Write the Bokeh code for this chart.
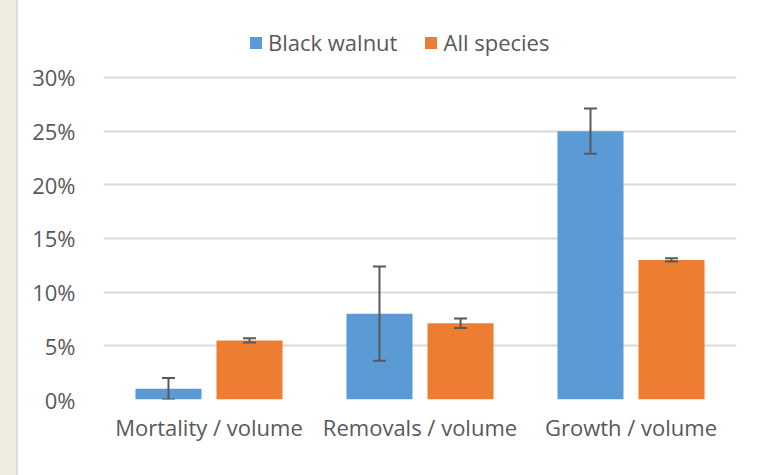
from bokeh.plotting import figure
from bokeh.layouts import row
from bokeh.models import (ColumnDataSource, FactorRange, Whisker, Legend, LegendItem,
                          FixedTicker, PrintfTickFormatter, TeeHead, Div)
from bokeh.transform import dodge
from bokeh.embed import file_html
from bokeh.resources import INLINE

categories = ["Mortality / volume", "Removals / volume", "Growth / volume"]
black_walnut = [1.0, 8.0, 25.0]
black_walnut_err = [1.0, 4.4, 2.1]
all_species = [5.5, 7.1, 13.0]
all_species_err = [0.2, 0.45, 0.15]
y_ticks = [0, 5, 10, 15, 20, 25, 30]

src = ColumnDataSource(dict(
    cats=categories,
    bw=black_walnut,
    bw_lo=[max(v - e, 0) for v, e in zip(black_walnut, black_walnut_err)],
    bw_hi=[v + e for v, e in zip(black_walnut, black_walnut_err)],
    al=all_species,
    al_lo=[v - e for v, e in zip(all_species, all_species_err)],
    al_hi=[v + e for v, e in zip(all_species, all_species_err)],
))

FONT = "Open Sans"
TXT = "#595959"

# frame extended above 30% so that the legend lies inside it (no grid line above 30%)
p = figure(x_range=FactorRange(*categories, range_padding=0), y_range=(0, 36.24),
           width=755, height=475, output_backend="svg", toolbar_location=None,
           min_border_left=85, min_border_right=37, min_border_top=10, min_border_bottom=76,
           border_fill_color="white", background_fill_color="white", outline_line_color=None)

off = 0.192
bw_r = p.vbar(x=dodge("cats", -off, range=p.x_range), top="bw", width=0.313, source=src,
              fill_color="#5b9bd5", line_color=None)
al_r = p.vbar(x=dodge("cats", off, range=p.x_range), top="al", width=0.313, source=src,
              fill_color="#ed7d31", line_color=None)

for base_off, lo, hi in [(-off, "bw_lo", "bw_hi"), (off, "al_lo", "al_hi")]:
    w = Whisker(source=src, base=dodge("cats", base_off, range=p.x_range), lower=lo, upper=hi,
                line_color="#595959", line_width=2, level="overlay",
                upper_head=TeeHead(size=13, line_color="#595959", line_width=2),
                lower_head=TeeHead(size=13, line_color="#595959", line_width=2))
    p.add_layout(w)

p.yaxis.ticker = FixedTicker(ticks=y_ticks)
p.yaxis.formatter = PrintfTickFormatter(format="%d%%")
for ax in (p.xaxis[0], p.yaxis[0]):
    ax.axis_line_color = None
    ax.major_tick_line_color = None
    ax.minor_tick_line_color = None
    ax.major_label_text_font = FONT
    ax.major_label_text_font_size = "22px"
    ax.major_label_text_color = TXT
p.yaxis.major_label_standoff = 22
p.xaxis.major_label_standoff = 6

p.xgrid.grid_line_color = None
p.ygrid.grid_line_color = "#d9d9d9"
p.ygrid.grid_line_width = 2

legend = Legend(items=[LegendItem(label="Black walnut", renderers=[bw_r]),
                       LegendItem(label="All species", renderers=[al_r])],
                location=(145, 342), orientation="horizontal",
                padding=0, margin=0, spacing=26, label_standoff=5,
                glyph_width=15, glyph_height=15,
                label_text_font=FONT, label_text_font_size="22px", label_text_color=TXT,
                border_line_color=None, background_fill_alpha=0)
p.add_layout(legend, "center")

strip = Div(text="", width=18, height=475, margin=0,
            styles={"background-color": "#eeebe0", "border-right": "2px solid #dcdcdc"})
layout = row(strip, p, spacing=0)

open("out.html", "w").write(file_html(layout, INLINE))
